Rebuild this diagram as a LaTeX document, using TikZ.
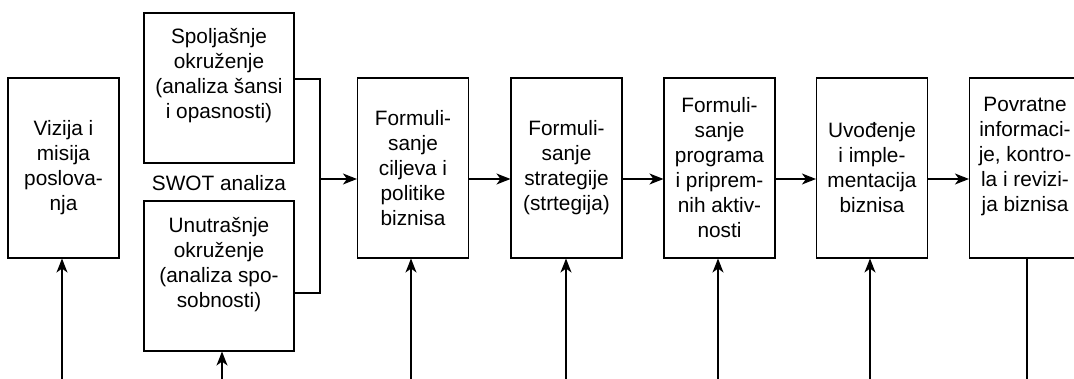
\documentclass[tikz,border=0pt]{standalone}
\usepackage{fontspec}
\setmainfont{Liberation Sans}
\usetikzlibrary{arrows.meta}
\begin{document}
\begin{tikzpicture}[x=1pt,y=-1pt,
  box/.style={draw, line width=1.1pt, minimum width=111pt, minimum height=180pt, inner sep=0pt, align=center, font=\fontsize{20.8}{25}\selectfont},
  sbox/.style={draw, line width=1.1pt, minimum width=150pt, minimum height=150pt, inner sep=0pt},
  txt/.style={inner sep=0pt, align=center, font=\fontsize{20.8}{25}\selectfont},
  conn/.style={line width=1.1pt},
  arr/.style={line width=1.1pt, -{Stealth[length=14pt,width=11pt,inset=4pt]}}]
\clip (0,0) rectangle (1074,379);
\fill[white] (0,0) rectangle (1074,379);
\node[box] (viz) at (63.5,168) {Vizija i\\misija\\poslova-\\nja};
\node[sbox] (spo) at (219,88) {};
\node[txt] (spot) at (219,76) {Spoljašnje\\okruženje\\(analiza šansi\\i opasnosti)};
\node[txt] (swot) at (219,183) {SWOT analiza};
\node[sbox] (unu) at (219,276) {};
\node[txt] (unut) at (219,264.5) {Unutrašnje\\okruženje\\(analiza spo-\\sobnosti)};
\node[box] (b3) at (413,168) {Formuli-\\sanje\\ciljeva i\\politike\\biznisa};
\node[box] (b4) at (566.5,168) {Formuli-\\sanje\\strategije\\(strtegija)};
\node[box] (b5) at (719.5,168) {Formuli-\\sanje\\programa\\i priprem-\\nih aktiv-\\nosti};
\node[box] (b6) at (872,168) {Uvođenje\\i imple-\\mentacija\\biznisa};
\node[box] (b7) at (1025,168) {};
\node[txt] (b7t) at (1025,156.5) {Povratne\\informaci-\\je, kontro-\\la i revizi-\\ja biznisa};
% bracket
\coordinate (m) at (0,179);
\coordinate (bt) at (320,79);
\coordinate (bb) at (320,293);
\coordinate (bm) at (320,179);
\draw[conn] (spo.east |- bt) -- (bt) -- (bb) -- (unu.east |- bb);
\draw[arr] (bm) -- (b3.west |- m);
\draw[arr] (b3.east |- m) -- (b4.west |- m);
\draw[arr] (b4.east |- m) -- (b5.west |- m);
\draw[arr] (b5.east |- m) -- (b6.west |- m);
\draw[arr] (b6.east |- m) -- (b7.west |- m);
% bottom inputs
\coordinate (i1) at (62,379);
\coordinate (i2) at (222,379);
\coordinate (i3) at (411,379);
\coordinate (i4) at (566,379);
\coordinate (i5) at (718,379);
\coordinate (i6) at (870,379);
\coordinate (i7) at (1027,379);
\draw[arr] (i1) -- (i1 |- viz.south);
\draw[arr] (i2) -- (i2 |- unu.south);
\draw[arr] (i3) -- (i3 |- b3.south);
\draw[arr] (i4) -- (i4 |- b4.south);
\draw[arr] (i5) -- (i5 |- b5.south);
\draw[arr] (i6) -- (i6 |- b6.south);
\draw[conn] (b7.south -| i7) -- (i7);
\end{tikzpicture}
\end{document}
